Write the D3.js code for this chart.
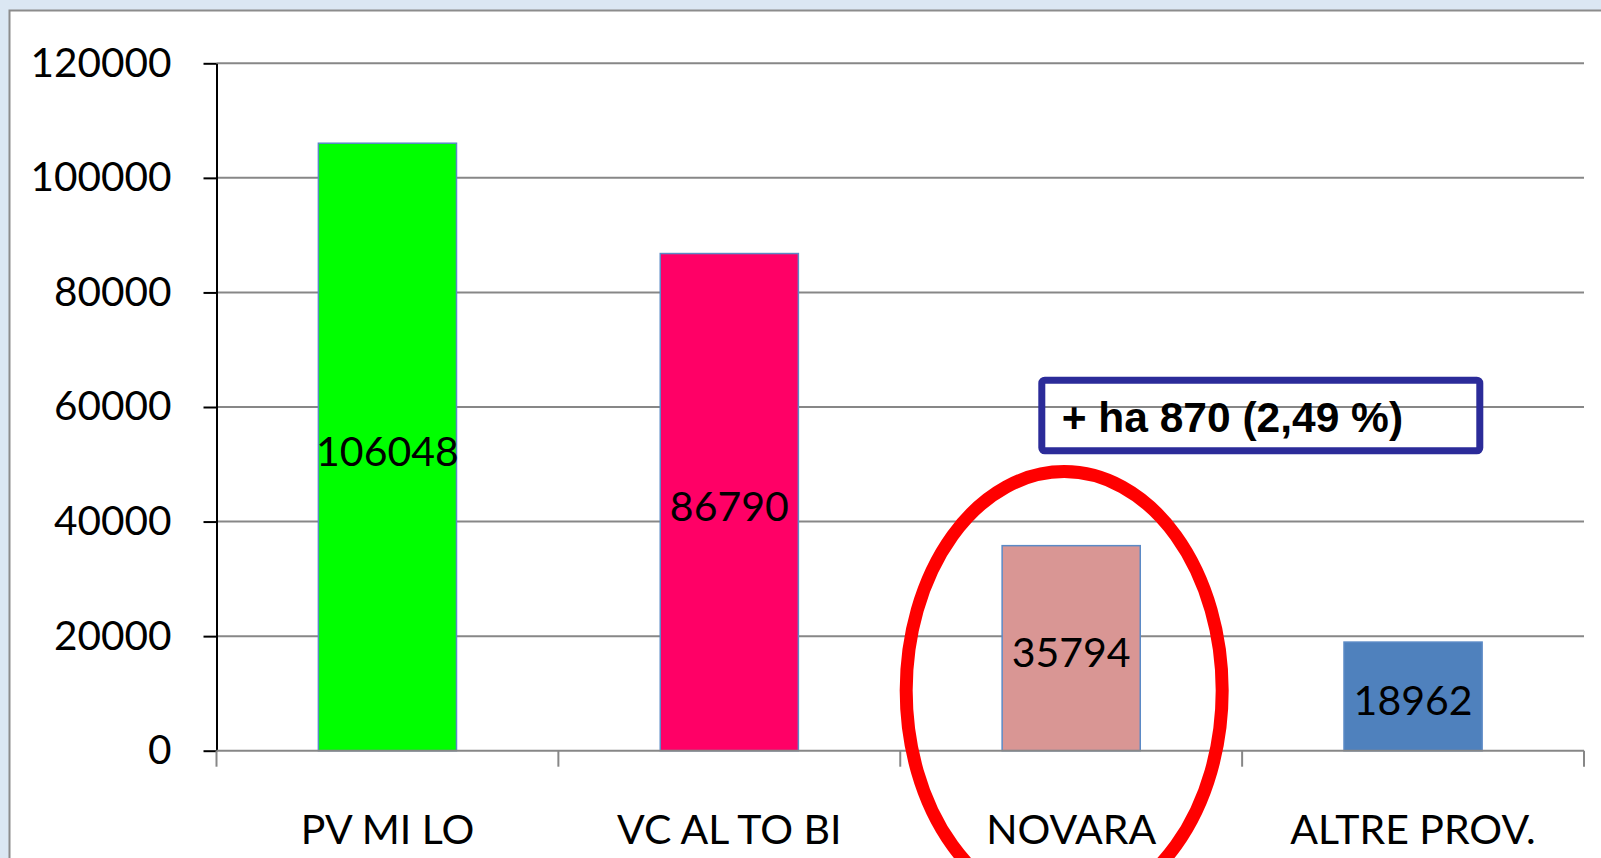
<!DOCTYPE html>
<html lang="it">
<head>
<meta charset="utf-8">
<title>Superficie per provincia</title>
<script src="https://d3js.org/d3.v7.min.js"></script>
<style>
  body { margin: 0; background: #dbe7f3; }
  svg { display: block; }
</style>
</head>
<body>
<script>
// dati
var categories = ["PV MI LO", "VC AL TO BI", "NOVARA", "ALTRE PROV."];
var values = [106048, 86790, 35794, 18962];
var barColors = ["#00ff00", "#ff0066", "#d99694", "#4f81bd"];
var yTicks = [0, 20000, 40000, 60000, 80000, 100000, 120000];
var note = "+ ha 870 (2,49 %)";

var W = 1601, H = 858;
// (non usare "top": e' window.top)
var plotLeft = 216.5, plotRight = 1584, plotTop = 63.3, plotBottom = 750.7;
var font = "Lato, 'Open Sans', sans-serif";

var svg = d3.select("body").append("svg")
    .attr("width", W)
    .attr("height", H);

// sfondo bianco del grafico con bordo grigio
svg.append("rect")
    .attr("x", 9.5).attr("y", 10.5)
    .attr("width", W).attr("height", H)
    .attr("fill", "#fff")
    .attr("stroke", "#8c8c8c")
    .attr("stroke-width", 2);

var x = d3.scaleBand().domain(categories).range([plotLeft, plotRight]).paddingInner(0).paddingOuter(0);
var y = d3.scaleLinear().domain([0, 120000]).range([plotBottom, plotTop]);

// griglia orizzontale
svg.append("g").selectAll("line")
    .data(yTicks.filter(function(d) { return d > 0; }))
    .enter().append("line")
    .attr("x1", plotLeft).attr("x2", plotRight)
    .attr("y1", function(d) { return y(d); })
    .attr("y2", function(d) { return y(d); })
    .attr("stroke", "#878787")
    .attr("stroke-width", 2);

// asse y
var yAxis = svg.append("g")
    .attr("transform", "translate(" + plotLeft + ",0)")
    .call(d3.axisLeft(y).tickValues(yTicks).tickSize(13).tickPadding(32).tickSizeOuter(0).tickFormat(d3.format("d")));
yAxis.select(".domain").attr("stroke", "#000").attr("stroke-width", 2);
yAxis.selectAll(".tick line").attr("stroke", "#000").attr("stroke-width", 2);
yAxis.selectAll("text")
    .attr("font-family", font)
    .attr("font-size", 40.5)
    .attr("fill", "#000");

// barre
var bw = x.bandwidth() * 0.404;
svg.append("g").selectAll("rect")
    .data(values)
    .enter().append("rect")
    .attr("x", function(d, i) { return x(categories[i]) + x.bandwidth() / 2 - bw / 2; })
    .attr("y", function(d) { return y(d); })
    .attr("width", bw)
    .attr("height", function(d) { return y(0) - y(d); })
    .attr("fill", function(d, i) { return barColors[i]; })
    .attr("stroke", "#5b8ac6")
    .attr("stroke-width", 1.5);

// asse x
var xAxis = svg.append("g").attr("transform", "translate(0," + plotBottom + ")");
xAxis.append("line")
    .attr("x1", plotLeft).attr("x2", plotRight)
    .attr("stroke", "#878787").attr("stroke-width", 2);
xAxis.selectAll("line.tk")
    .data(categories.concat(["end"]))
    .enter().append("line")
    .attr("class", "tk")
    .attr("x1", function(d, i) { return i < categories.length ? x(d) : plotRight; })
    .attr("x2", function(d, i) { return i < categories.length ? x(d) : plotRight; })
    .attr("y1", 0).attr("y2", 16)
    .attr("stroke", "#878787").attr("stroke-width", 2);
xAxis.selectAll("text")
    .data(categories)
    .enter().append("text")
    .attr("x", function(d) { return x(d) + x.bandwidth() / 2; })
    .attr("y", 93)
    .attr("text-anchor", "middle")
    .attr("font-family", font)
    .attr("font-size", 41)
    .text(function(d) { return d; });

// etichette valori
svg.append("g").selectAll("text")
    .data(values)
    .enter().append("text")
    .attr("x", function(d, i) { return x(categories[i]) + x.bandwidth() / 2; })
    .attr("y", function(d) { return (y(d) + y(0)) / 2 + 19; })
    .attr("text-anchor", "middle")
    .attr("font-family", font)
    .attr("font-size", 41)
    .text(function(d) { return d; });

// ellisse rossa su NOVARA
svg.append("ellipse")
    .attr("cx", x("NOVARA") + x.bandwidth() / 2 - 7)
    .attr("cy", y(10500))
    .attr("rx", 158)
    .attr("ry", 219)
    .attr("fill", "none")
    .attr("stroke", "#ff0000")
    .attr("stroke-width", 13);

// riquadro nota
svg.append("rect")
    .attr("x", 1041.8).attr("y", 380.2)
    .attr("width", 438).attr("height", 70.6)
    .attr("rx", 3)
    .attr("fill", "none")
    .attr("stroke", "#2b2b99")
    .attr("stroke-width", 7);
svg.append("text")
    .attr("x", 1061.7).attr("y", 432)
    .attr("font-family", "'Liberation Sans', Arial, sans-serif")
    .attr("font-weight", "bold")
    .attr("font-size", 42.5)
    .text(note);
</script>
</body>
</html>
